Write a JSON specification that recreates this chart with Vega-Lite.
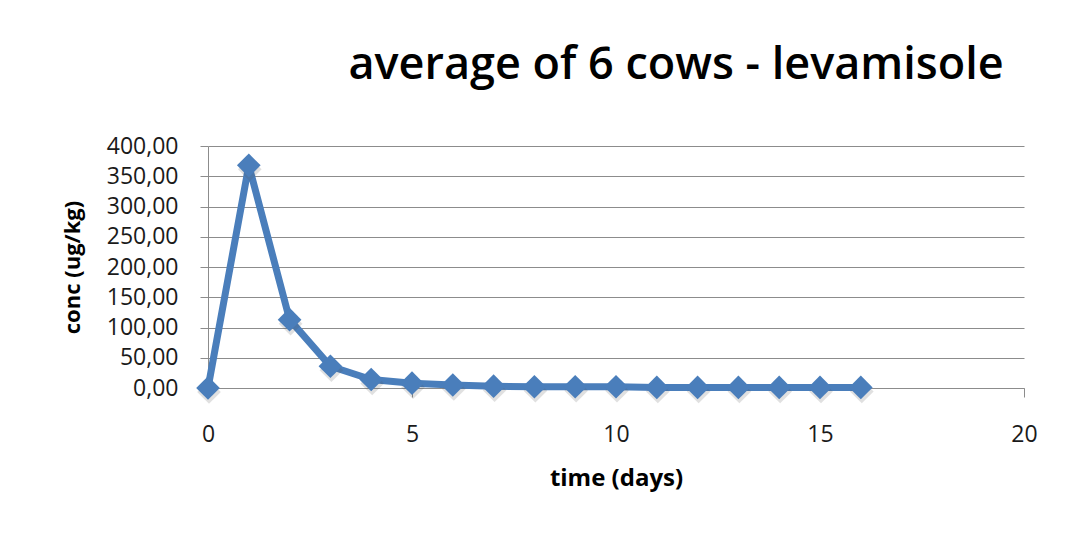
{
  "$schema": "https://vega.github.io/schema/vega-lite/v6.json",
  "width": 816,
  "height": 242,
  "autosize": {"type": "none"},
  "padding": {"left": 208, "top": 146, "right": 47, "bottom": 149},
  "background": "white",
  "title": {
    "text": "average of 6 cows - levamisole",
    "font": "Open Sans",
    "fontSize": 45,
    "fontWeight": 600,
    "color": "#000000",
    "anchor": "middle",
    "baseline": "alphabetic",
    "dx": 60,
    "offset": 11
  },
  "config": {
    "view": {"stroke": null},
    "axis": {
      "labelFont": "Open Sans",
      "titleFont": "Open Sans",
      "labelColor": "#1a1a1a",
      "titleColor": "#000000",
      "domainColor": "#8c8c8c",
      "tickColor": "#8c8c8c",
      "gridColor": "#8c8c8c",
      "domainWidth": 1,
      "tickWidth": 1,
      "gridWidth": 1
    }
  },
  "data": {
    "values": [
      {"day": 0, "conc": 0},
      {"day": 1, "conc": 368},
      {"day": 2, "conc": 113},
      {"day": 3, "conc": 36},
      {"day": 4, "conc": 14},
      {"day": 5, "conc": 8},
      {"day": 6, "conc": 5},
      {"day": 7, "conc": 3},
      {"day": 8, "conc": 2},
      {"day": 9, "conc": 2},
      {"day": 10, "conc": 2},
      {"day": 11, "conc": 1},
      {"day": 12, "conc": 1},
      {"day": 13, "conc": 1},
      {"day": 14, "conc": 1},
      {"day": 15, "conc": 1},
      {"day": 16, "conc": 1}
    ]
  },
  "encoding": {
    "x": {
      "field": "day",
      "type": "quantitative",
      "scale": {"domain": [0, 20], "nice": false, "zero": true},
      "axis": {
        "title": "time (days)",
        "values": [0, 5, 10, 15, 20],
        "grid": false,
        "tickSize": 9,
        "labelFlush": false,
        "labelPadding": 26,
        "labelFontSize": 23,
        "titleFontSize": 24,
        "titleFontWeight": "bold",
        "titlePadding": 20
      }
    },
    "y": {
      "field": "conc",
      "type": "quantitative",
      "scale": {"domain": [0, 400], "nice": false},
      "axis": {
        "title": "conc (ug/kg)",
        "values": [0, 50, 100, 150, 200, 250, 300, 350, 400],
        "grid": true,
        "tickSize": 8,
        "labelPadding": 22,
        "labelFontSize": 23,
        "labelExpr": "replace(format(datum.value, '.2f'), '.', ',')",
        "titleFontSize": 22,
        "titleFontWeight": "bold",
        "titlePadding": 22
      }
    }
  },
  "layer": [
    {
      "mark": {"type": "line", "color": "#4a7ebb", "strokeWidth": 7, "strokeJoin": "round"}
    },
    {
      "mark": {
        "type": "point",
        "shape": "diamond",
        "filled": true,
        "size": 560,
        "color": "#555555",
        "opacity": 0.18,
        "xOffset": 1,
        "yOffset": 4
      }
    },
    {
      "mark": {
        "type": "point",
        "shape": "diamond",
        "filled": true,
        "size": 560,
        "color": "#4a7ebb",
        "opacity": 1
      }
    }
  ]
}
